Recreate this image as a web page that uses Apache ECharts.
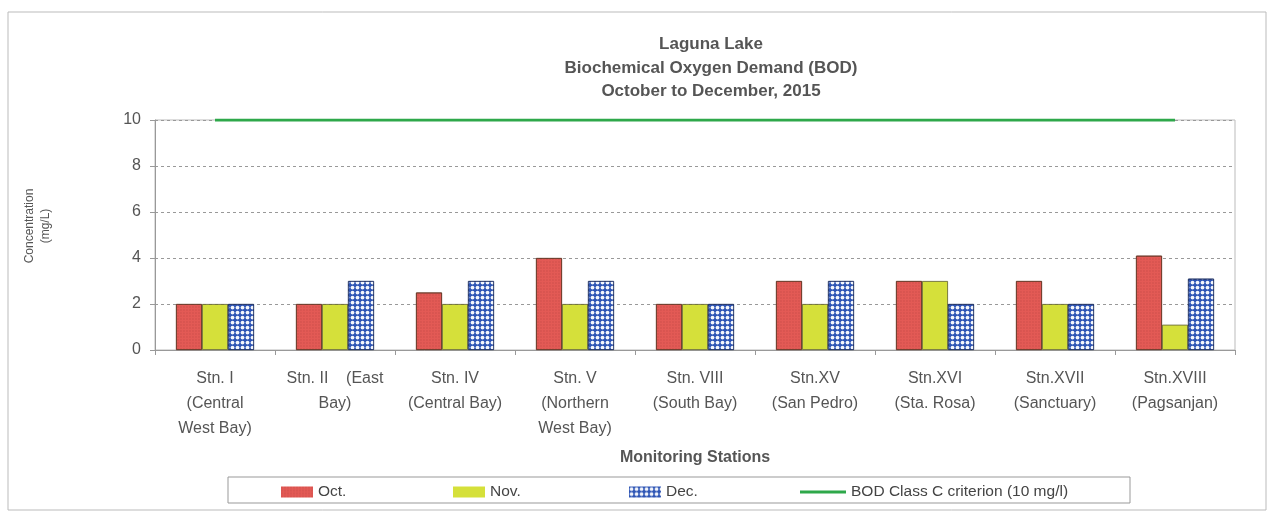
<!DOCTYPE html>
<html>
<head>
<meta charset="utf-8">
<title>Laguna Lake BOD</title>
<script src="https://cdn.jsdelivr.net/npm/echarts@6/dist/echarts.min.js"></script>
<style>
    html,body{margin:0;padding:0;background:#fff;}
    #main{width:1273px;height:514px;}
</style>
</head>
<body>
<div id="main"></div>
<script>
// 监测站
const stations=[
    'Stn. I\n(Central\nWest Bay)',
    'Stn. II    (East\nBay)',
    'Stn. IV\n(Central Bay)',
    'Stn. V\n(Northern\nWest Bay)',
    'Stn. VIII\n(South Bay)',
    'Stn.XV\n(San Pedro)',
    'Stn.XVI\n(Sta. Rosa)',
    'Stn.XVII\n(Sanctuary)',
    'Stn.XVIII\n(Pagsanjan)'
];
const octValues=[2,2,2.5,4,2,3,3,3,4.1];
const novValues=[2,2,2,2,2,2,3,2,1.1];
const decValues=[2,3,3,3,2,3,2,2,3.1];
const criterion=[10,10,10,10,10,10,10,10,10];
const yTicks=[0,2,4,6,8,10];

const textColor='#555';
const font='Liberation Sans, Arial, sans-serif';
const lineName='BOD Class C criterion (10 mg/l)';

let chart=echarts.init(document.getElementById('main'));

//图例
function makeLegend(name,left,w,h){
    return {
        left:left,top:484,
        itemWidth:w,itemHeight:h,
        itemGap:0,padding:0,
        itemStyle:{borderWidth:0},
        textStyle:{fontSize:15.5,color:'#444',fontFamily:font},
        data:[{name:name,icon:'rect'}]
    };
}

let option={
    animation:false,
    backgroundColor:'#fff',
    textStyle:{fontFamily:font},
    title:{
        text:'Laguna Lake\nBiochemical Oxygen Demand (BOD)\nOctober to December, 2015',
        left:706,
        top:28,
        textAlign:'center',
        textStyle:{fontSize:17,fontWeight:'bold',color:textColor,lineHeight:23.5,fontFamily:font}
    },
    //外框
    graphic:[{
        type:'rect',
        shape:{x:8,y:12,width:1258,height:498},
        style:{fill:'none',stroke:'#bbb',lineWidth:1},
        silent:true
    },{
        type:'rect',
        shape:{x:228,y:477,width:902,height:26},
        style:{fill:'none',stroke:'#999',lineWidth:1},
        silent:true
    },{
        type:'text',
        x:38,y:226,rotation:Math.PI/2,
        style:{text:'Concentration\n(mg/L)',fill:textColor,font:'12px '+font,align:'center',verticalAlign:'middle',lineHeight:16}
    }],
    legend:[
        makeLegend('Oct.',281,32,11),
        makeLegend('Nov.',453,32,11),
        makeLegend('Dec.',629,32,11),
        makeLegend(lineName,800,46,3)
    ],
    grid:{
        left:155,right:38,top:120,bottom:164,
        show:true,borderColor:'#bbb',borderWidth:1
    },
    xAxis:{
        type:'category',
        data:stations,
        name:'Monitoring Stations',
        nameLocation:'middle',
        nameGap:100,
        nameTextStyle:{fontSize:16,fontWeight:'bold',color:textColor},
        axisLine:{lineStyle:{color:'#999'}},
        axisTick:{show:true,length:5,lineStyle:{color:'#999'}},
        axisLabel:{fontSize:16,color:textColor,margin:16,lineHeight:25,interval:0}
    },
    yAxis:{
        type:'value',
        min:yTicks[0],
        max:yTicks[yTicks.length-1],
        interval:2,
        axisLine:{show:true,lineStyle:{color:'#999'}},
        axisTick:{show:true,length:5,lineStyle:{color:'#999'}},
        axisLabel:{fontSize:16,color:textColor,margin:14},
        splitLine:{lineStyle:{color:'#999',type:[3,3]}}
    },
    series:[
        {
            name:'Oct.',type:'bar',data:octValues,
            barWidth:26,barGap:'0%',
            itemStyle:{
                color:'#e35a55',borderColor:'#6b3a2a',borderWidth:0.8,
                decal:{symbol:'rect',symbolSize:0.6,color:'rgba(150,50,50,0.4)',dashArrayX:[2,1],dashArrayY:[2,1],rotation:0}
            }
        },
        {
            name:'Nov.',type:'bar',data:novValues,
            barWidth:26,
            itemStyle:{color:'#d5e03a',borderColor:'#5a5a2a',borderWidth:0.8}
        },
        {
            name:'Dec.',type:'bar',data:decValues,
            barWidth:26,
            itemStyle:{
                color:'#2e55b5',borderColor:'#223366',borderWidth:0.8,
                decal:{symbol:'circle',symbolSize:0.75,color:'rgba(255,255,255,0.95)',dashArrayX:[5,0],dashArrayY:[5,0],rotation:0}
            }
        },
        {
            name:lineName,type:'line',data:criterion,
            symbol:'none',
            lineStyle:{color:'#2ea84a',width:3},
            itemStyle:{color:'#2ea84a'}
        }
    ]
};

chart.setOption(option);
</script>
</body>
</html>
